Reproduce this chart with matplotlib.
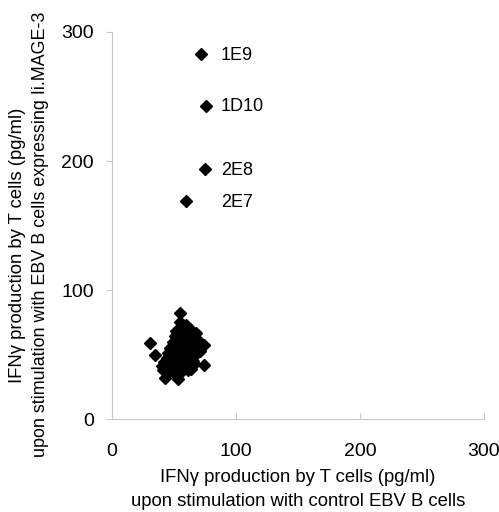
import numpy as np
import matplotlib
matplotlib.use("Agg")
import matplotlib.pyplot as plt

plt.rcParams['font.family'] = ['Liberation Sans', 'DejaVu Sans']

# labelled clones (x: control EBV B, y: EBV B expressing Ii.MAGE-3)
clone_names = ["1E9", "1D10", "2E8", "2E7"]
clone_x = [72, 76, 75, 60]
clone_y = [283, 243, 194, 169]

# unresponsive clones (dense cluster, estimated)
cluster_x = [31, 35, 55, 74, 74, 68, 60, 53, 43, 41,
             45, 48, 50, 52, 54, 56, 58, 62, 64, 66,
             47, 49, 51, 53, 55, 57, 59, 61, 63, 65,
             46, 50, 54, 58, 62, 52, 56, 60, 48, 57,
             44, 67, 70, 63, 58, 51, 55, 49, 60, 65,
             42, 45, 40, 47, 66, 69, 71, 64, 61, 50]
cluster_y = [59, 50, 82, 42, 57, 67, 73, 31, 32, 38,
             42, 45, 48, 40, 44, 50, 46, 52, 48, 55,
             55, 60, 52, 58, 63, 56, 66, 60, 64, 62,
             37, 36, 35, 42, 45, 68, 70, 40, 50, 60,
             47, 50, 58, 70, 54, 64, 75, 41, 57, 45,
             44, 51, 41, 38, 43, 61, 53, 39, 38, 56]

label_x = 88

fig = plt.figure(figsize=(4.99, 5.12), dpi=100)
ax = fig.add_axes([0.2244, 0.1816, 0.7456, 0.7559])

ax.plot(cluster_x, cluster_y, 'D', color='black', markersize=6.6, linestyle='none', clip_on=False)
ax.plot(clone_x, clone_y, 'D', color='black', markersize=6.6, linestyle='none', clip_on=False)
for name, cy in zip(clone_names, clone_y):
    ax.text(label_x, cy - 1, name, ha='left', va='center', fontsize=13)

ax.set_xlim(0, 300)
ax.set_ylim(0, 300)
ax.set_xticks([0, 100, 200, 300])
ax.set_yticks([0, 100, 200, 300])

for side in ['top', 'right']:
    ax.spines[side].set_visible(False)
for side in ['left', 'bottom']:
    ax.spines[side].set_color('#c8c8c8')
    ax.spines[side].set_linewidth(0.8)
ax.tick_params(axis='both', colors='#c8c8c8', labelcolor='black', labelsize=14, length=4, width=0.8)
ax.tick_params(axis='x', direction='in', pad=17)
ax.tick_params(axis='y', direction='out', pad=9)

# axis titles, two lines each
fig.text(298 / 499, 1 - 478 / 512, "IFN\u03b3 production by T cells (pg/ml)",
         ha='center', va='center', fontsize=13.3)
fig.text(298 / 499, 1 - 502 / 512, "upon stimulation with control EBV B cells",
         ha='center', va='center', fontsize=13.3)
fig.text(18 / 499, 1 - 245 / 512, "IFN\u03b3 production by T cells (pg/ml)",
         ha='center', va='center', rotation=90, fontsize=13.3)
fig.text(41 / 499, 1 - 234 / 512, "upon stimulation with EBV B cells expressing Ii.MAGE-3",
         ha='center', va='center', rotation=90, fontsize=12.9)

fig.savefig("out.png", dpi=100)
